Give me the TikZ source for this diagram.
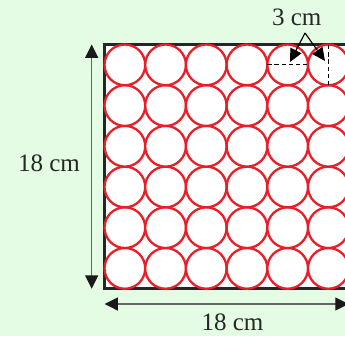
\documentclass[tikz,border=0pt]{standalone}
\usepackage{fontspec}
\setmainfont{Liberation Serif}
\usepackage{xcolor}
\usetikzlibrary{arrows.meta,positioning,calc}
\definecolor{bggreen}{RGB}{228,252,228}
\definecolor{ringred}{RGB}{232,30,40}
\begin{document}
\begin{tikzpicture}[
  ring/.style={draw=ringred, line width=1.6pt, fill=white},
  frame/.style={draw=black!85, line width=2.1pt, fill=white},
  dimarrow/.style={{Triangle[length=0.33cm, width=0.32cm, color=black!90]}-{Triangle[length=0.33cm, width=0.32cm, color=black!90]}, draw=black!60, line width=1pt},
  pointer/.style={-{Triangle[length=0.32cm, width=0.3cm]}, line width=0.8pt},
  guide/.style={densely dashed, line width=0.7pt},
  lbl/.style={anchor=base, font=\fontsize{17.5}{20}\selectfont, text=black!85, inner sep=0pt}
]
\fill[bggreen] (0,0) rectangle (8.477,8.256);
\useasboundingbox (0,0) rectangle (8.477,8.256);
\clip (0,0) rectangle (8.477,8.256);

% square of side 6 cells
\coordinate (sqa) at (2.568,1.162);
\coordinate (sqb) at (8.568,7.162);
\draw[frame] (sqa) rectangle (sqb);
\foreach \i in {0,...,5}
  \foreach \j in {0,...,5}
    \draw[ring] ($(sqa)+(\i+0.5,\j+0.5)$) circle (0.5);

% one circle's width
\draw[guide] ($(sqa)+(4,5.5)$) -- ($(sqa)+(5,5.5)$);
\draw[guide] ($(sqa)+(5.5,5)$) -- ($(sqa)+(5.5,6)$);

% dimension arrows
\coordinate (vtop) at (2.253,7.162);
\coordinate (vbot) at (2.253,1.162);
\draw[dimarrow] (vbot) -- (vtop);
\coordinate (hleft) at (2.568,0.786);
\coordinate (hright) at (8.568,0.786);
\draw[dimarrow] (hleft) -- (hright);

\node[lbl] (side) at (1.204,4.037) {18 cm};
\node[lbl] (base) at (5.713,0.147) {18 cm};
\node[lbl] (diam) at (7.29,7.641) {3 cm};

\coordinate (apex) at (7.494,7.445);
\coordinate (tipa) at (7.125,6.732);
\coordinate (tipb) at (7.985,6.757);
\draw[pointer] (apex) -- (tipa);
\draw[pointer] (apex) -- (tipb);
\end{tikzpicture}
\end{document}
